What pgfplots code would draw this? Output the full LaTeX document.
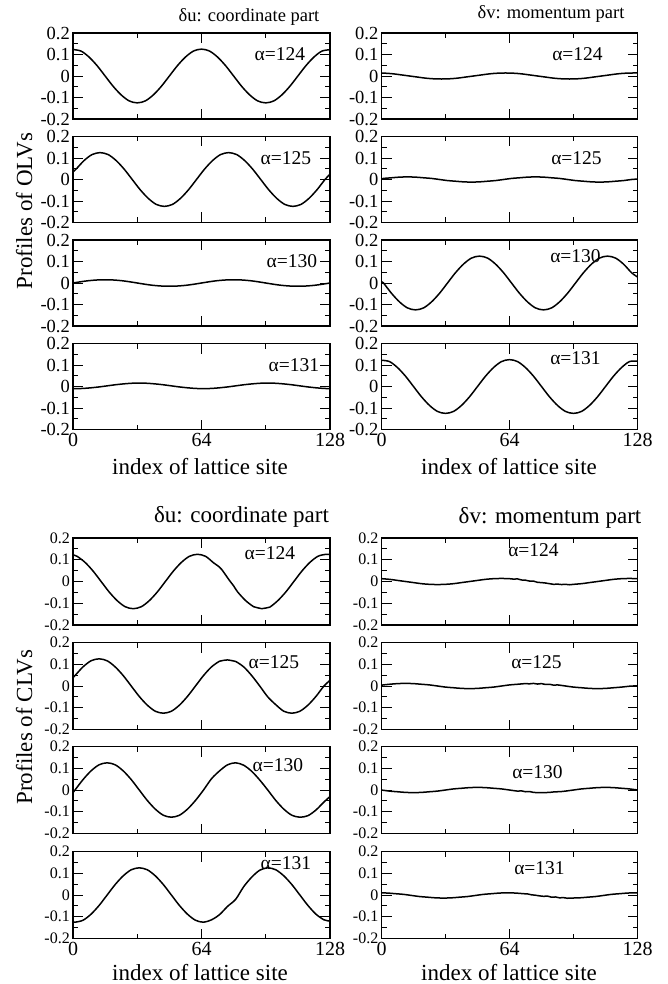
\documentclass[border=0pt]{standalone}
\usepackage{pgfplots}
\pgfplotsset{compat=1.18}
\usepackage{fontspec}
\setmainfont{Liberation Serif}

\pgfplotsset{
  panel/.style={
    scale only axis, width=257pt, height=86pt,
    xmin=0, xmax=128, ymin=-0.2, ymax=0.2,
    xtick={0,64,128}, minor xtick={32,96},
    ytick={-0.2,-0.1,0,0.1,0.2}, minor ytick={-0.15,-0.05,0.05,0.15},
    yticklabels={-0.2,-0.1,0,0.1,0.2},
    xticklabels={},
    tick align=inside,
    major tick length=10pt, minor tick length=5pt,
    axis line style={line width=1.3pt},
    every tick/.style={black, line width=0.9pt},
    yticklabel style={font=\fontsize{18.5}{18.5}\selectfont, inner xsep=3pt},
    xticklabel style={font=\fontsize{20}{20}\selectfont},
    anchor=north west,
  },
  bot/.style={xticklabels={0,64,128}},
  low/.style={height=87pt, yticklabel style={font=\fontsize{16}{16}\selectfont}},
  curve/.style={black, line width=1.5pt, smooth, tension=0.5, mark=none},
}
\tikzset{lab/.style={font=\fontsize{19.5}{19.5}\selectfont, inner sep=0pt}}

\begin{document}
\begin{tikzpicture}
\path[use as bounding box] (0,0) rectangle (667pt,-984pt);

% ================= OLVs (top group) =================
% --- left column: delta u
\begin{axis}[panel, at={(73pt,-33pt)}]
\addplot[curve] coordinates {(0,.123)(4,.116)(8,.088)(12,.048)(16,0)(20,-.048)(24,-.088)(28,-.116)(32,-.125)(36,-.116)(40,-.088)(44,-.048)(48,0)(52,.048)(56,.088)(60,.116)(64,.125)(68,.116)(72,.088)(76,.048)(80,0)(84,-.048)(88,-.088)(92,-.116)(96,-.125)(100,-.116)(104,-.088)(108,-.048)(112,0)(116,.048)(120,.088)(124,.116)(128,.122)};
\node[lab] at (axis cs:103,0.1) {α=124};
\end{axis}

\begin{axis}[panel, at={(73pt,-136.5pt)}]
\addplot[curve] coordinates {(0,.036)(1.5,.048)(5.5,.088)(9.5,.116)(13.5,.125)(17.5,.116)(21.5,.088)(25.5,.048)(29.5,0)(33.5,-.048)(37.5,-.088)(41.5,-.116)(45.5,-.125)(49.5,-.116)(53.5,-.088)(57.5,-.048)(61.5,0)(65.5,.048)(69.5,.088)(73.5,.116)(77.5,.125)(81.5,.116)(85.5,.088)(89.5,.048)(93.5,0)(97.5,-.048)(101.5,-.088)(105.5,-.116)(109.5,-.125)(113.5,-.116)(117.5,-.088)(121.5,-.048)(125.5,0)(128,.025)};
\node[lab] at (axis cs:106,0.1) {α=125};
\end{axis}

\begin{axis}[panel, at={(73pt,-240pt)}]
\addplot[curve] coordinates {(0,0)(4,.006)(8,.011)(12,.014)(16,.015)(20,.014)(24,.011)(28,.006)(32,0)(36,-.006)(40,-.011)(44,-.014)(48,-.015)(52,-.014)(56,-.011)(60,-.006)(64,0)(68,.006)(72,.011)(76,.014)(80,.015)(84,.014)(88,.011)(92,.006)(96,0)(100,-.006)(104,-.011)(108,-.014)(112,-.015)(116,-.014)(120,-.011)(124,-.006)(128,0)};
\node[lab] at (axis cs:109,0.1) {α=130};
\end{axis}

\begin{axis}[panel, bot, at={(73pt,-343.5pt)}]
\addplot[curve] coordinates {(0,-.010)(1,-.010)(5,-.009)(9,-.006)(13,-.002)(17,.003)(21,.008)(25,.012)(29,.015)(33,.016)(37,.015)(41,.012)(45,.008)(49,.003)(53,-.002)(57,-.006)(61,-.009)(65,-.010)(69,-.009)(73,-.006)(77,-.002)(81,.003)(85,.008)(89,.012)(93,.015)(97,.016)(101,.015)(105,.012)(109,.008)(113,.003)(117,-.002)(121,-.006)(125,-.009)(128,-.010)};
\node[lab] at (axis cs:110,0.1) {α=131};
\end{axis}

% --- right column: delta v
\begin{axis}[panel, width=256pt, at={(381.5pt,-33pt)}]
\addplot[curve] coordinates {(0,.014)(2,.013)(6,.010)(10,.005)(14,0)(18,-.005)(22,-.010)(26,-.013)(30,-.014)(34,-.013)(38,-.010)(42,-.005)(46,0)(50,.005)(54,.010)(58,.013)(62,.014)(66,.013)(70,.010)(74,.005)(78,0)(82,-.005)(86,-.010)(90,-.013)(94,-.014)(98,-.013)(102,-.010)(106,-.005)(110,0)(114,.005)(118,.010)(122,.013)(126,.014)(128,.014)};
\node[lab] at (axis cs:98,0.1) {α=124};
\end{axis}

\begin{axis}[panel, width=256pt, at={(381.5pt,-136.5pt)}]
\addplot[curve] coordinates {(0,.003)(1,.005)(5,.008)(9,.011)(13,.012)(17,.011)(21,.008)(25,.005)(29,0)(33,-.005)(37,-.008)(41,-.011)(45,-.012)(49,-.011)(53,-.008)(57,-.005)(61,0)(65,.005)(69,.008)(73,.011)(77,.012)(81,.011)(85,.008)(89,.005)(93,0)(97,-.005)(101,-.008)(105,-.011)(109,-.012)(113,-.011)(117,-.008)(121,-.005)(125,0)(128,.002)};
\node[lab] at (axis cs:97.5,0.1) {α=125};
\end{axis}

\begin{axis}[panel, width=256pt, at={(381.5pt,-240pt)}]
\addplot[curve] coordinates {(0,.005)(1,0)(5,-.048)(9,-.088)(13,-.116)(17,-.125)(21,-.116)(25,-.088)(29,-.048)(33,0)(37,.048)(41,.088)(45,.116)(49,.125)(53,.116)(57,.088)(61,.048)(65,0)(69,-.048)(73,-.088)(77,-.116)(81,-.125)(85,-.116)(89,-.088)(93,-.048)(97,0)(101,.048)(105,.088)(109,.116)(113,.125)(117,.116)(121,.088)(125,.048)(128,.028)};
\node[lab] at (axis cs:97,0.123) {α=130};
\end{axis}

\begin{axis}[panel, bot, width=256pt, at={(381.5pt,-343.5pt)}]
\addplot[curve] coordinates {(0,.122)(4,.116)(8,.088)(12,.048)(16,0)(20,-.048)(24,-.088)(28,-.116)(32,-.125)(36,-.116)(40,-.088)(44,-.048)(48,0)(52,.048)(56,.088)(60,.116)(64,.125)(68,.116)(72,.088)(76,.048)(80,0)(84,-.048)(88,-.088)(92,-.116)(96,-.125)(100,-.116)(104,-.088)(108,-.048)(112,0)(116,.048)(120,.088)(124,.116)(128,.118)};
\node[lab] at (axis cs:97,0.133) {α=131};
\end{axis}

% ================= CLVs (bottom group) =================
\begin{axis}[panel, low, at={(73pt,-538pt)}]
\addplot[curve] coordinates {(0,.122)(2,.116)(6,.088)(10,.048)(14,0)(18,-.048)(22,-.088)(26,-.116)(30,-.125)(34,-.116)(38,-.088)(42,-.048)(46,0)(50,.048)(54,.088)(58,.116)(62,.125)(66,.116)(70,.086)(72,.073)(74,.056)(78,.004)(80,-.020)(82,-.048)(86,-.088)(90,-.116)(92,-.121)(94,-.125)(96,-.122)(98,-.118)(102,-.088)(106,-.048)(110,0)(114,.048)(118,.088)(122,.116)(126,.125)(128,.124)};
\node[lab] at (axis cs:98,0.131) {α=124};
\end{axis}

\begin{axis}[panel, low, at={(73pt,-642.5pt)}]
\addplot[curve] coordinates {(0,.038)(1,.048)(5,.088)(9,.116)(13,.125)(17,.116)(21,.088)(25,.048)(29,0)(33,-.048)(37,-.088)(41,-.116)(45,-.125)(49,-.116)(53,-.088)(57,-.048)(61,0)(65,.048)(69,.088)(73,.114)(75,.118)(77,.120)(79,.117)(81,.113)(85,.088)(89,.048)(93,0)(97,-.050)(101,-.086)(105,-.116)(109,-.125)(113,-.116)(117,-.088)(121,-.048)(125,0)(128,.026)};
\node[lab] at (axis cs:100,0.112) {α=125};
\end{axis}

\begin{axis}[panel, low, at={(73pt,-746.5pt)}]
\addplot[curve] coordinates {(0,-.012)(1,0)(5,.048)(9,.088)(13,.116)(17,.125)(21,.116)(25,.088)(29,.048)(33,0)(37,-.048)(41,-.088)(45,-.116)(49,-.125)(53,-.116)(57,-.088)(61,-.048)(65,0)(69,.052)(73,.088)(77,.116)(81,.125)(85,.114)(89,.086)(93,.046)(97,0)(101,-.048)(105,-.088)(109,-.116)(113,-.125)(117,-.118)(121,-.092)(125,-.055)(128,-.030)};
\node[lab] at (axis cs:102,0.113) {α=130};
\end{axis}

\begin{axis}[panel, low, bot, at={(73pt,-851.5pt)}]
\addplot[curve] coordinates {(0,-.124)(1,-.125)(5,-.116)(9,-.088)(13,-.048)(17,0)(21,.048)(25,.088)(29,.116)(33,.125)(37,.116)(41,.088)(45,.048)(49,0)(53,-.048)(57,-.088)(61,-.116)(65,-.125)(69,-.114)(73,-.090)(77,-.052)(81,-.020)(85,.038)(89,.082)(93,.114)(97,.125)(101,.116)(105,.088)(109,.048)(113,0)(117,-.048)(121,-.088)(125,-.114)(128,-.120)};
\node[lab] at (axis cs:106,0.146) {α=131};
\end{axis}

% --- right column: delta v
\begin{axis}[panel, low, width=256pt, at={(381.5pt,-538pt)}]
\addplot[curve] coordinates {(0,.013)(4,.010)(8,.005)(12,0)(16,-.005)(20,-.010)(24,-.013)(28,-.014)(32,-.013)(36,-.010)(40,-.005)(44,0)(48,.005)(52,.010)(56,.013)(60,.014)(64,.013)(66,.011)(68,.012)(70,.007)(72,.006)(74,.002)(76,.002)(78,-.004)(80,-.005)(82,-.007)(84,-.010)(86,-.013)(88,-.012)(90,-.014)(92,-.013)(94,-.015)(96,-.013)(100,-.010)(104,-.005)(108,0)(112,.005)(116,.010)(120,.013)(124,.014)(128,.013)};
\node[lab] at (axis cs:76,0.145) {α=124};
\end{axis}

\begin{axis}[panel, low, width=256pt, at={(381.5pt,-642.5pt)}]
\addplot[curve] coordinates {(0,.004)(4,.008)(8,.011)(12,.012)(16,.011)(20,.008)(24,.005)(28,0)(32,-.005)(36,-.008)(40,-.011)(44,-.012)(48,-.011)(52,-.008)(56,-.005)(60,0)(64,.005)(68,.008)(72,.011)(74,.010)(76,.012)(78,.009)(80,.011)(82,.007)(84,.008)(86,.004)(88,.005)(92,0)(96,-.005)(100,-.008)(104,-.011)(108,-.012)(112,-.011)(116,-.008)(120,-.005)(124,-.001)(128,.001)};
\node[lab] at (axis cs:77.5,0.112) {α=125};
\end{axis}

\begin{axis}[panel, low, width=256pt, at={(381.5pt,-746.5pt)}]
\addplot[curve] coordinates {(0,0)(4,-.005)(8,-.008)(12,-.011)(16,-.012)(20,-.011)(24,-.008)(28,-.005)(32,0)(36,.005)(40,.008)(44,.011)(48,.012)(52,.011)(56,.008)(60,.005)(64,0)(68,-.005)(70,-.004)(72,-.008)(74,-.007)(76,-.011)(80,-.012)(84,-.011)(86,-.009)(88,-.008)(90,-.007)(92,-.005)(96,0)(100,.005)(104,.008)(108,.011)(112,.012)(116,.011)(120,.008)(124,.005)(128,0)};
\node[lab] at (axis cs:78,0.082) {α=130};
\end{axis}

\begin{axis}[panel, low, bot, width=256pt, at={(381.5pt,-851.5pt)}]
\addplot[curve] coordinates {(0,.010)(3,.009)(7,.006)(11,.003)(15,-.002)(19,-.007)(23,-.010)(27,-.013)(31,-.014)(35,-.013)(39,-.010)(43,-.007)(47,-.002)(51,.003)(55,.006)(59,.009)(63,.010)(67,.009)(71,.006)(73,.005)(75,.001)(77,-.001)(79,-.004)(81,-.006)(83,-.005)(85,-.010)(87,-.009)(89,-.013)(91,-.012)(93,-.015)(95,-.014)(99,-.013)(103,-.010)(107,-.007)(111,-.002)(115,.003)(119,.006)(123,.009)(127,.010)(128,.010)};
\node[lab] at (axis cs:79,0.124) {α=131};
\end{axis}

% ================= titles and axis labels =================
\node[font=\fontsize{18.5}{18.5}\selectfont, anchor=base] at (249pt,-21.7pt) {δu: coordinate part};
\node[font=\fontsize{18.5}{18.5}\selectfont, anchor=base] at (551pt,-18.5pt) {δv: momentum part};
\node[font=\fontsize{23}{23}\selectfont, anchor=base] at (241.5pt,-522.7pt) {δu: coordinate part};
\node[font=\fontsize{23}{23}\selectfont, anchor=base] at (550pt,-523.3pt) {δv: momentum part};

\node[font=\fontsize{23}{23}\selectfont, anchor=base, rotate=90] at (32pt,-211pt) {Profiles of OLVs};
\node[font=\fontsize{23}{23}\selectfont, anchor=base, rotate=90] at (32pt,-727pt) {Profiles of CLVs};

\node[font=\fontsize{23}{23}\selectfont, anchor=base] at (200pt,-474pt) {index of lattice site};
\node[font=\fontsize{23}{23}\selectfont, anchor=base] at (509pt,-474pt) {index of lattice site};
\node[font=\fontsize{23}{23}\selectfont, anchor=base] at (200pt,-980pt) {index of lattice site};
\node[font=\fontsize{23}{23}\selectfont, anchor=base] at (509pt,-980pt) {index of lattice site};
\end{tikzpicture}
\end{document}
